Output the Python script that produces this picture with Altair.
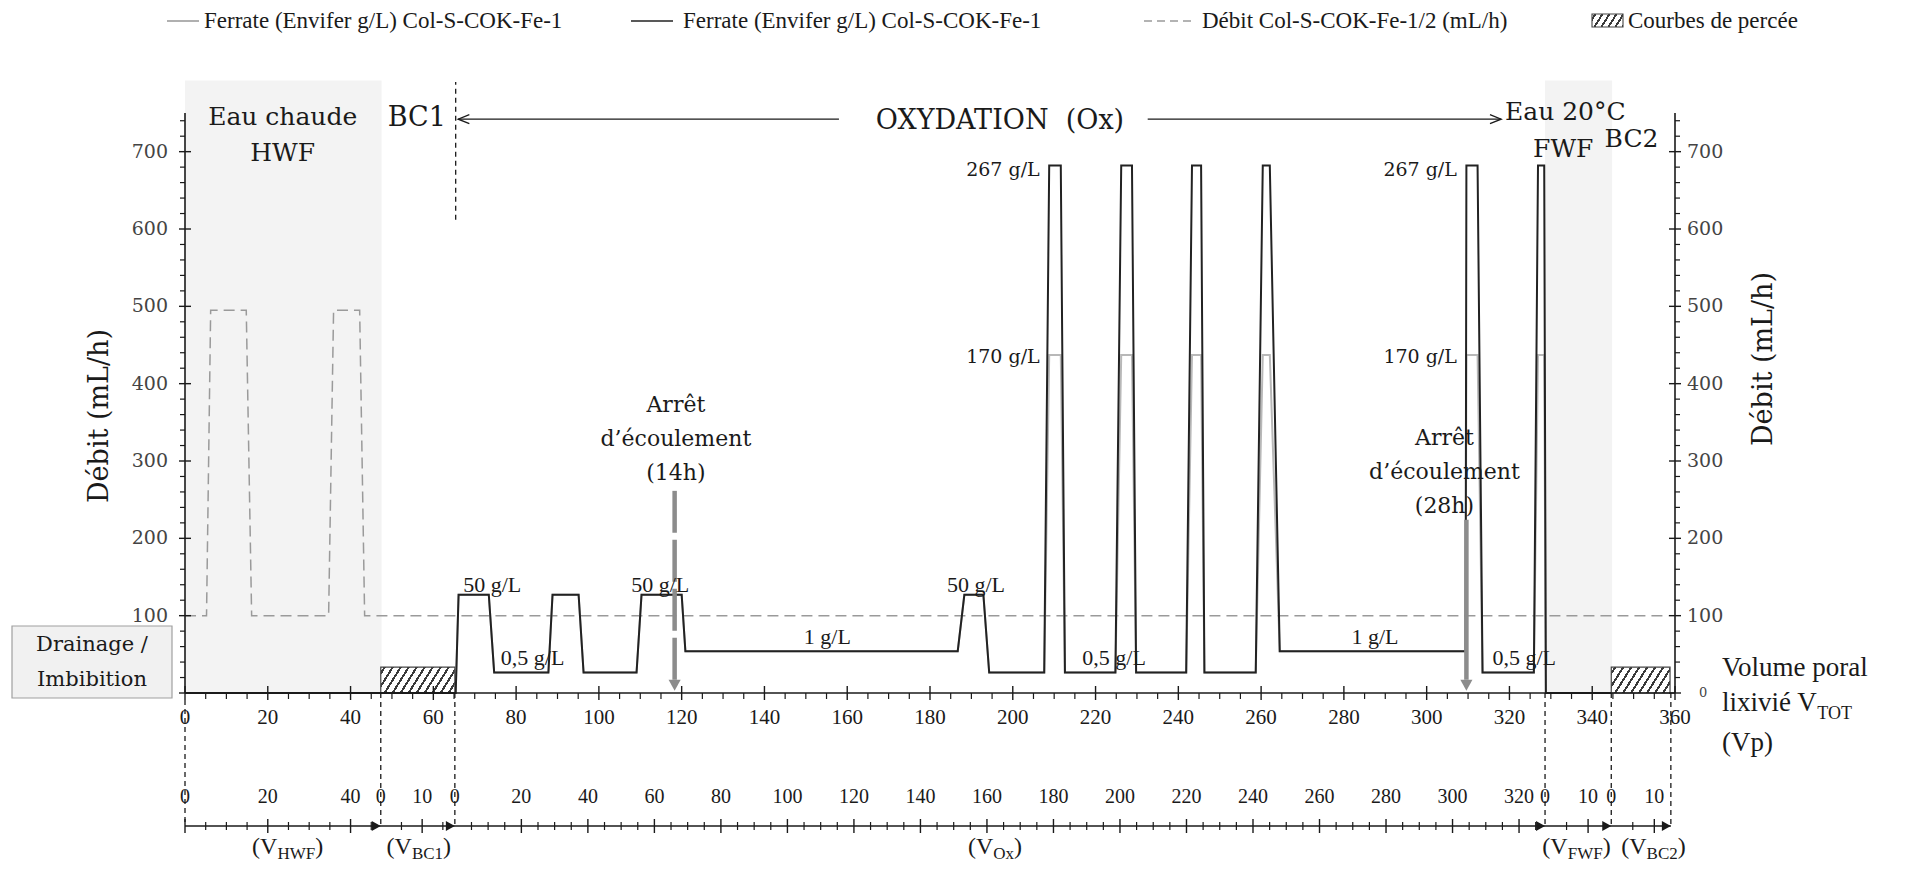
import math
import altair as alt
import pandas as pd

TIMES = "Liberation Serif"
WIDE = "DejaVu Serif"
INK = "#1a1a1a"

# ---------------- values ----------------
# x = volume poral lixivié (Vp), y = débit (mL/h)
ferrate_x = [0, 65.4, 66.1, 73.4, 74.7, 87.8, 88.8, 95.1, 96.3, 109.1,
             110.3, 120.0, 120.9, 186.7, 188.3, 192.9, 194.3, 207.6, 208.8, 211.6,
             212.6, 224.8, 226.2, 228.8, 229.8, 241.9, 243.3, 245.5, 246.3, 258.7,
             260.4, 262.1, 264.5, 309.4, 309.6, 312.3, 313.5, 325.9, 326.9, 328.4,
             328.8, 344.6]
ferrate_267_y = [0, 0, 127, 127, 26.5, 26.5, 127, 127, 26.5, 26.5,
                 127, 127, 54, 54, 127, 127, 26.5, 26.5, 682, 682,
                 26.5, 26.5, 682, 682, 26.5, 26.5, 682, 682, 26.5, 26.5,
                 682, 682, 54, 54, 682, 682, 26.5, 26.5, 682, 682,
                 0, 0]
ferrate_170_y = [0, 0, 127, 127, 26.5, 26.5, 127, 127, 26.5, 26.5,
                 127, 127, 54, 54, 127, 127, 26.5, 26.5, 437, 437,
                 26.5, 26.5, 437, 437, 26.5, 26.5, 437, 437, 26.5, 26.5,
                 437, 437, 54, 54, 437, 437, 26.5, 26.5, 437, 437,
                 0, 0]
debit_x = [0, 5.2, 6.2, 14.8, 16.1, 34.7, 35.9, 42.2, 43.4, 358.5]
debit_y = [100, 100, 495, 495, 100, 100, 495, 495, 100, 100]

shade_x0 = [0, 328.6]
shade_x1 = [47.5, 344.8]
shade_top = 792
hatch_x0 = [47.3, 344.6]
hatch_x1 = [65.2, 358.8]
hatch_top = 33.5

stop_x = [118.3, 309.6]          # arrêts d'écoulement
stop_top = [262, 224]

# sub-axes (segments) : name, start (Vp), Vp per unit, end (Vp)
seg_name = ["HWF", "BC1", "Ox", "FWF", "BC2"]
seg_start = [0.0, 47.3, 65.2, 328.6, 344.6]
seg_factor = [1.0, 1.0, 0.8035, 1.04, 1.04]
seg_end = [47.3, 65.2, 328.6, 344.6, 359.0]
seg_labels = [[0, 20, 40], [0, 10], [0] + list(range(20, 321, 20)), [0, 10], [0, 10]]
seg_major = [[0, 20, 40], [10], list(range(20, 321, 20)), [10], [10]]
seg_minor = [[5, 10, 15, 25, 30, 35, 45], [5, 15],
             [v for v in range(5, 326, 5) if v % 20], [5], [5]]
seg_center = [24.8, 56.5, 195.7, 336.2, 354.8]

x_tick_labels = list(range(0, 361, 20))
y_tick_labels = list(range(100, 701, 100))

# ---------------- layout ----------------
W, H = 1490, 580
XMAX, YMAX = 360, 750
PX = W / XMAX
PY = H / YMAX

x_scale = alt.Scale(domain=[0, XMAX], nice=False, zero=False)
y_scale = alt.Scale(domain=[0, YMAX], nice=False, zero=False)


def XQ(f="x"):
    return alt.X(f"{f}:Q", scale=x_scale, axis=None)


def YQ(f="y"):
    return alt.Y(f"{f}:Q", scale=y_scale, axis=None)


def XP(f="x"):
    return alt.X(f"{f}:Q", scale=None, axis=None)


def YP(f="y"):
    return alt.Y(f"{f}:Q", scale=None, axis=None)


def hatch_fill(w, h, period=8.0, lw=2.0, angle=58):
    k = h / (w * math.tan(math.radians(angle)))
    a = (1 + k) / (1 + k * k)
    dt = (period / w) / (1 + k)
    half = (lw / math.sin(math.radians(angle)) / w) / (1 + k) / 2
    bg, ln = "#ffffff", "#3a3a3a"
    stops = [{"offset": 0, "color": bg}]
    t = dt / 2
    while t < 1:
        a0, a1 = max(0, t - half), min(1, t + half)
        stops += [{"offset": a0, "color": bg}, {"offset": a0, "color": ln},
                  {"offset": a1, "color": ln}, {"offset": a1, "color": bg}]
        t += dt
    stops.append({"offset": 1, "color": bg})
    return {"gradient": "linear", "x1": 0, "y1": 0, "x2": a, "y2": a * k, "stops": stops}


def texts(df, font, size, pixel=False, align="center", baseline="middle", color=INK, angle=0):
    enc = {"text": "t:N"}
    if pixel:
        enc["x"], enc["y"] = XP(), YP()
    else:
        enc["x"], enc["y"] = XQ(), YQ()
    return alt.Chart(df).mark_text(font=font, fontSize=size, align=align, baseline=baseline,
                                   color=color, angle=angle).encode(**enc)


layers = []

# shaded zones (HWF, FWF)
shade_df = pd.DataFrame({"x0": shade_x0, "x1": shade_x1, "y0": [0, 0], "y1": [shade_top] * 2})
layers.append(alt.Chart(shade_df).mark_rect(color="#f3f3f3").encode(
    x=XQ("x0"), x2="x1", y=YQ("y0"), y2="y1"))

# hatched breakthrough zones
for x0, x1 in zip(hatch_x0, hatch_x1):
    d = pd.DataFrame({"x0": [x0], "x1": [x1], "y0": [0], "y1": [hatch_top]})
    layers.append(alt.Chart(d).mark_rect(
        fill=hatch_fill((x1 - x0) * PX, hatch_top * PY), stroke="#444", strokeWidth=1.2
    ).encode(x=XQ("x0"), x2="x1", y=YQ("y0"), y2="y1"))

# débit (dashed)
deb_df = pd.DataFrame({"x": debit_x, "y": debit_y, "i": range(len(debit_x))})
layers.append(alt.Chart(deb_df).mark_line(color="#9a9a9a", strokeWidth=1.5, strokeDash=[11, 6]).encode(
    x=XQ(), y=YQ(), order="i:Q"))

# ferrate 170 (gray) and 267 (black)
f170 = pd.DataFrame({"x": ferrate_x, "y": ferrate_170_y, "i": range(len(ferrate_x))})
layers.append(alt.Chart(f170).mark_line(color="#b8b8b8", strokeWidth=2).encode(
    x=XQ(), y=YQ(), order="i:Q"))
f267 = pd.DataFrame({"x": ferrate_x, "y": ferrate_267_y, "i": range(len(ferrate_x))})
layers.append(alt.Chart(f267).mark_line(color="#222", strokeWidth=2).encode(
    x=XQ(), y=YQ(), order="i:Q"))

# arrêt d'écoulement arrows
for xa, yt, dash in zip(stop_x, stop_top, [[42, 7], [1, 0]]):
    d = pd.DataFrame({"x": [xa], "y0": [17], "y1": [yt]})
    layers.append(alt.Chart(d).mark_rule(color="#8c8c8c", strokeWidth=4.5, strokeDash=dash).encode(
        x=XQ(), y=YQ("y0"), y2="y1"))
tri_df = pd.DataFrame({"x": stop_x, "y": [3, 3]})
layers.append(alt.Chart(tri_df).mark_point(shape="M-0.55,-1L0.55,-1L0,0Z", filled=True, size=484,
                                           color="#8c8c8c", opacity=1).encode(x=XQ(), y=YQ()))

# BC1 upper dashed line
layers.append(alt.Chart(pd.DataFrame({"x": [65.4], "y0": [612], "y1": [790]})).mark_rule(
    color=INK, strokeWidth=1.3, strokeDash=[5, 4]).encode(x=XQ(), y=YQ("y0"), y2="y1"))

# OXYDATION arrow
ox_df = pd.DataFrame({"x0": [66, 232.6], "x1": [158, 318], "y": [742, 742]})
layers.append(alt.Chart(ox_df).mark_rule(color=INK, strokeWidth=1.3).encode(
    x=XQ("x0"), x2="x1", y=YQ()))
layers.append(alt.Chart(pd.DataFrame({"x": [66], "y": [742]})).mark_point(
    shape="M1,-0.4L0,0L1,0.4", filled=False, size=500, color=INK, strokeWidth=1.3, opacity=1
).encode(x=XQ(), y=YQ()))
layers.append(alt.Chart(pd.DataFrame({"x": [318], "y": [742]})).mark_point(
    shape="M-1,-0.4L0,0L-1,0.4", filled=False, size=500, color=INK, strokeWidth=1.3, opacity=1
).encode(x=XQ(), y=YQ()))

# ---------- main axes (drawn by hand) ----------
layers.append(alt.Chart(pd.DataFrame({"x0": [0], "x1": [XMAX]})).mark_rule(color=INK, strokeWidth=1.6).encode(
    x=XQ("x0"), x2="x1", y=alt.value(H)))
for xv in [0, W]:
    layers.append(alt.Chart(pd.DataFrame({"y0": [0], "y1": [YMAX]})).mark_rule(color=INK, strokeWidth=1.6).encode(
        x=alt.value(xv), y=YQ("y0"), y2="y1"))

xmaj = list(range(0, 361, 20))
xmin = [v for v in range(5, 360, 5) if v % 20]
layers.append(alt.Chart(pd.DataFrame({"x": xmaj})).mark_rule(color=INK, strokeWidth=1.4).encode(
    x=XQ(), y=alt.value(H - 7), y2=alt.value(H + 7)))
layers.append(alt.Chart(pd.DataFrame({"x": xmin})).mark_rule(color=INK, strokeWidth=1.2).encode(
    x=XQ(), y=alt.value(H), y2=alt.value(H + 6)))
layers.append(alt.Chart(pd.DataFrame({"x": x_tick_labels, "t": [str(v) for v in x_tick_labels]})).mark_text(
    font=TIMES, fontSize=21, color=INK, baseline="middle").encode(
    x=XQ(), y=alt.value(H + 25), text="t:N"))

ymaj = list(range(0, 701, 100))
ymin = [v for v in range(20, 750, 20) if v % 100]
for xa, xb, xc, xd in [(-6, 6, -5, 0), (W - 6, W + 6, W, W + 5)]:
    layers.append(alt.Chart(pd.DataFrame({"y": ymaj})).mark_rule(color=INK, strokeWidth=1.4).encode(
        y=YQ(), x=alt.value(xa), x2=alt.value(xb)))
    layers.append(alt.Chart(pd.DataFrame({"y": ymin})).mark_rule(color=INK, strokeWidth=1.2).encode(
        y=YQ(), x=alt.value(xc), x2=alt.value(xd)))
ylab_df = pd.DataFrame({"y": y_tick_labels, "t": [str(v) for v in y_tick_labels]})
layers.append(alt.Chart(ylab_df).mark_text(
    font=WIDE, fontSize=19, color="#444", align="right", baseline="middle").encode(
    x=alt.value(-17), y=YQ(), text="t:N"))
layers.append(alt.Chart(ylab_df).mark_text(
    font=WIDE, fontSize=19, color="#444", align="left", baseline="middle").encode(
    x=alt.value(W + 12), y=YQ(), text="t:N"))
layers.append(alt.Chart(pd.DataFrame({"y": [0], "t": ["0"]})).mark_text(
    font=WIDE, fontSize=13, color="#444", align="left", baseline="middle").encode(
    x=alt.value(W + 24), y=YQ(), text="t:N"))

# ---------- lower segment axes ----------
ROW_NUM = 684
ROW_ARROW = 713
ROW_V = 741
dash_x = [0] + seg_end
dash_top = [H + 7] + [H] * len(seg_end)
ddf = pd.DataFrame({"x": dash_x, "py0": dash_top, "py1": [ROW_ARROW] * len(dash_x)})
layers.append(alt.Chart(ddf).mark_rule(color=INK, strokeWidth=1.3, strokeDash=[5, 4]).encode(
    x=XQ(), y=YP("py0"), y2="py1"))
layers.append(alt.Chart(pd.DataFrame({"x0": [0], "x1": [seg_end[-1]]})).mark_rule(
    color=INK, strokeWidth=1.5).encode(x=XQ("x0"), x2="x1", y=alt.value(ROW_ARROW)))

maj, mnr, lab_x, lab_t = [], [], [], []
for s, f, mj, mn, lb in zip(seg_start, seg_factor, seg_major, seg_minor, seg_labels):
    maj += [s + f * v for v in mj]
    mnr += [s + f * v for v in mn]
    lab_x += [s + f * v for v in lb]
    lab_t += [str(v) for v in lb]
layers.append(alt.Chart(pd.DataFrame({"x": maj})).mark_rule(color=INK, strokeWidth=1.4).encode(
    x=XQ(), y=alt.value(ROW_ARROW - 7), y2=alt.value(ROW_ARROW + 7)))
layers.append(alt.Chart(pd.DataFrame({"x": mnr})).mark_rule(color=INK, strokeWidth=1.2).encode(
    x=XQ(), y=alt.value(ROW_ARROW - 4), y2=alt.value(ROW_ARROW + 4)))
layers.append(alt.Chart(pd.DataFrame({"x": seg_end})).mark_point(
    shape="M-1,-0.55L0,0L-1,0.55Z", filled=True, size=324, color=INK, opacity=1
).encode(x=XQ(), y=alt.value(ROW_ARROW)))
layers.append(alt.Chart(pd.DataFrame({"x": lab_x, "t": lab_t})).mark_text(
    font=TIMES, fontSize=20, color=INK, baseline="middle").encode(
    x=XQ(), y=alt.value(ROW_NUM), text="t:N"))

# (V_xxx) labels
TW = {'(': .333, ')': .333, 'V': .722, 'H': .722, 'W': .944, 'F': .556, 'B': .667, 'C': .667,
      '1': .5, '2': .5, 'O': .722, 'x': .5, 'T': .611, 'l': .278, 'i': .278, 'v': .5,
      'é': .444, ' ': .25}


def tw(s, size):
    return sum(TW.get(c, .5) for c in s) * size


MAIN, SUB = 24, 17
vm_x, vs_x, vs_t, vc_x = [], [], [], []
for name, cx in zip(seg_name, seg_center):
    w1, w2, w3 = tw("(V", MAIN), tw(name, SUB), tw(")", MAIN)
    start = cx * PX - (w1 + w2 + w3) / 2
    vm_x.append(start / PX)
    vs_x.append((start + w1) / PX)
    vs_t.append(name)
    vc_x.append((start + w1 + w2) / PX)
layers.append(alt.Chart(pd.DataFrame({"x": vm_x, "t": ["(V"] * 5})).mark_text(
    font=TIMES, fontSize=MAIN, color=INK, align="left", baseline="alphabetic").encode(
    x=XQ(), y=alt.value(ROW_V), text="t:N"))
layers.append(alt.Chart(pd.DataFrame({"x": vs_x, "t": vs_t})).mark_text(
    font=TIMES, fontSize=SUB, color=INK, align="left", baseline="alphabetic").encode(
    x=XQ(), y=alt.value(ROW_V + 5), text="t:N"))
layers.append(alt.Chart(pd.DataFrame({"x": vc_x, "t": [")"] * 5})).mark_text(
    font=TIMES, fontSize=MAIN, color=INK, align="left", baseline="alphabetic").encode(
    x=XQ(), y=alt.value(ROW_V), text="t:N"))

# ---------- annotations in data space ----------
top_df = pd.DataFrame({
    "x": [23.6, 23.6, 56, 196.9, 333.5, 333, 349.5],
    "y": [745, 698, 744, 740, 751, 704, 716],
    "t": ["Eau chaude", "HWF", "BC1", "OXYDATION\u00a0\u00a0(Ox)", "Eau 20°C", "FWF", "BC2"]})
layers.append(texts(top_df.iloc[[0, 1, 4, 5, 6]], WIDE, 25))
layers.append(texts(top_df.iloc[[2, 3]], WIDE, 27))

peak_df = pd.DataFrame({"x": [206.5, 307.3, 206.5, 307.3], "y": [676, 676, 435, 435],
                        "t": ["267 g/L", "267 g/L", "170 g/L", "170 g/L"]})
layers.append(texts(peak_df, WIDE, 19, align="right"))

c50 = pd.DataFrame({"x": [67.2, 107.8, 184.1], "y": [140] * 3, "t": ["50 g/L"] * 3})
layers.append(texts(c50, TIMES, 22, align="left"))
c05 = pd.DataFrame({"x": [76.3, 216.8, 315.9], "y": [45] * 3, "t": ["0,5 g/L"] * 3})
layers.append(texts(c05, TIMES, 22, align="left"))
c1 = pd.DataFrame({"x": [155.2, 287.5], "y": [73] * 2, "t": ["1 g/L"] * 2})
layers.append(texts(c1, TIMES, 22))

arr_df = pd.DataFrame({
    "x": [118.6, 118.6, 118.6, 304.3, 304.3, 304.3],
    "y": [372, 328, 285, 330, 286, 242],
    "t": ["Arrêt", "d’écoulement", "(14h)", "Arrêt", "d’écoulement", "(28h)"]})
layers.append(texts(arr_df, WIDE, 22))

# ---------- pixel-positioned furniture ----------
# Drainage / Imbibition box
layers.append(alt.Chart(pd.DataFrame({"x0": [-173], "x1": [-13], "y0": [513], "y1": [585]})).mark_rect(
    fill="#f1f1f1", stroke="#a0a0a0", strokeWidth=1.2).encode(
    x=XP("x0"), x2="x1", y=YP("y0"), y2="y1"))
layers.append(texts(pd.DataFrame({"x": [-93, -93], "y": [532, 567], "t": ["Drainage  /", "Imbibition"]}),
                    WIDE, 21, pixel=True))

# axis titles
layers.append(texts(pd.DataFrame({"x": [-85, W + 89], "y": [303, 246], "t": ["Débit (mL/h)"] * 2}),
                    WIDE, 27, pixel=True, angle=270))

# Volume poral lixivié
VX = W + 47
layers.append(texts(pd.DataFrame({"x": [VX, VX, VX], "y": [555, 590, 630],
                                  "t": ["Volume poral", "lixivié V", "(Vp)"]}),
                    TIMES, 27, pixel=True, align="left"))
layers.append(alt.Chart(pd.DataFrame({"x": [VX + tw("lixivié V", 27)], "y": [606], "t": ["TOT"]})).mark_text(
    font=TIMES, fontSize=18, color=INK, align="left", baseline="alphabetic").encode(
    x=XP(), y=YP(), text="t:N"))

# legend
LY = -92
layers.append(alt.Chart(pd.DataFrame({"a": [0]})).mark_rule(color="#b0b0b0", strokeWidth=2).encode(
    x=alt.value(-18), x2=alt.value(14), y=alt.value(LY)))
layers.append(alt.Chart(pd.DataFrame({"a": [0]})).mark_rule(color="#222", strokeWidth=1.6).encode(
    x=alt.value(446), x2=alt.value(488), y=alt.value(LY)))
layers.append(alt.Chart(pd.DataFrame({"a": [0]})).mark_rule(color="#9a9a9a", strokeWidth=1.5,
                                                           strokeDash=[8, 5]).encode(
    x=alt.value(959), x2=alt.value(1011), y=alt.value(LY)))
layers.append(alt.Chart(pd.DataFrame({"a": [0]})).mark_rect(
    fill=hatch_fill(31, 13, period=7), stroke="#444", strokeWidth=1.1).encode(
    x=alt.value(1407), x2=alt.value(1438), y=alt.value(LY - 7), y2=alt.value(LY + 6)))
leg_df = pd.DataFrame({"x": [19, 498, 1017, 1443], "y": [LY] * 4,
                       "t": ["Ferrate (Envifer g/L) Col-S-COK-Fe-1", "Ferrate (Envifer g/L) Col-S-COK-Fe-1",
                             "Débit Col-S-COK-Fe-1/2 (mL/h)", "Courbes de percée"]})
layers.append(texts(leg_df, TIMES, 23, pixel=True, align="left"))

chart = alt.layer(*layers).properties(
    width=W, height=H,
    padding={"left": 177, "top": 105, "right": 220, "bottom": 171},
    autosize=alt.AutoSizeParams(type="none"),
    background="white",
).configure_view(stroke=None)

chart.save("out.html", embed_options={"renderer": "svg", "actions": False})
